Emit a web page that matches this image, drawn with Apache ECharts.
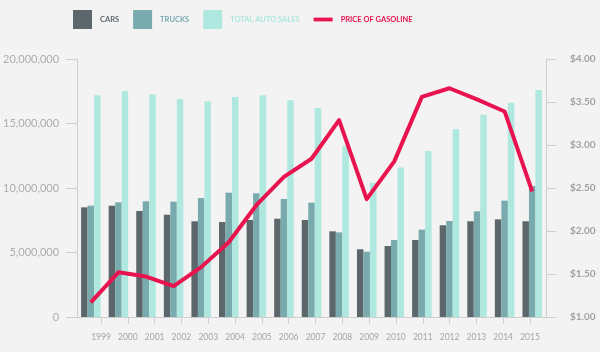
<!DOCTYPE html>
<html>
<head>
<meta charset="utf-8">
<script src="https://cdn.jsdelivr.net/npm/echarts@6/dist/echarts.min.js"></script>
<style>
  html, body { margin: 0; padding: 0; background: #f3f3f3; }
  #main { width: 600px; height: 352px; }
</style>
</head>
<body>
<div id="main"></div>
<script>
const years = ['1999', '2000', '2001', '2002', '2003', '2004', '2005', '2006', '2007',
  '2008', '2009', '2010', '2011', '2012', '2013', '2014', '2015'];
const cars = [8500000, 8630000, 8220000, 7930000, 7420000, 7360000, 7520000, 7620000, 7520000,
  6640000, 5250000, 5500000, 5970000, 7110000, 7420000, 7570000, 7420000];
const trucks = [8630000, 8890000, 8970000, 8940000, 9220000, 9640000, 9590000, 9150000, 8860000,
  6560000, 5060000, 5970000, 6770000, 7440000, 8190000, 9020000, 10160000];
const totalSales = [17190000, 17520000, 17240000, 16900000, 16720000, 17050000, 17190000, 16800000, 16200000,
  13280000, 10410000, 11580000, 12870000, 14550000, 15680000, 16600000, 17600000];
const gasPrice = [1.17, 1.52, 1.47, 1.36, 1.58, 1.87, 2.30, 2.63, 2.84,
  3.29, 2.37, 2.81, 3.56, 3.66, 3.53, 3.39, 2.46];

const font = 'Lato';
const axisGray = '#cfcfcf';

const option = {
  backgroundColor: '#f3f3f3',
  animation: false,
  textStyle: { fontFamily: font },
  legend: {
    left: 73,
    top: 10,
    padding: 0,
    itemWidth: 19,
    itemHeight: 19,
    itemGap: 14,
    textStyle: { fontSize: 7.5, fontWeight: 'bold', padding: [0, 0, 0, 3] },
    data: [
      { name: 'CARS', icon: 'rect', textStyle: { color: '#5b676b' } },
      { name: 'TRUCKS', icon: 'rect', textStyle: { color: '#78aaae' } },
      { name: 'TOTAL AUTO SALES', icon: 'rect', textStyle: { color: '#aee8de' } },
      { name: 'PRICE OF GASOLINE', icon: 'path://M0,0h20v4h-20z', textStyle: { color: '#e8134f' } }
    ]
  },
  grid: [
    { left: 74, right: 54, top: 59, bottom: 35 },
    { left: 101, right: 70, top: 59, bottom: 35 }
  ],
  xAxis: [
    {
      type: 'category',
      gridIndex: 0,
      data: years,
      axisLine: { lineStyle: { color: axisGray } },
      axisTick: { show: false },
      axisLabel: { show: false }
    },
    {
      type: 'category',
      gridIndex: 1,
      data: years,
      boundaryGap: false,
      axisLine: { show: false },
      axisTick: { show: true, length: 7, alignWithLabel: true, lineStyle: { color: axisGray } },
      axisLabel: { fontSize: 8.5, color: '#a5a5a5', margin: 16, fontFamily: font }
    }
  ],
  yAxis: [
    {
      type: 'value',
      gridIndex: 0,
      min: 0,
      max: 20000000,
      interval: 5000000,
      axisLine: { show: true, lineStyle: { color: axisGray } },
      axisTick: { show: true, length: 11, lineStyle: { color: axisGray } },
      splitLine: { show: false },
      axisLabel: {
        fontSize: 11,
        color: '#acacac',
        margin: 18,
        formatter: v => v.toLocaleString('en-US')
      }
    },
    {
      type: 'value',
      gridIndex: 0,
      position: 'right',
      min: 1,
      max: 4,
      interval: 0.5,
      axisLine: { show: true, lineStyle: { color: axisGray } },
      axisTick: { show: true, length: 10, lineStyle: { color: axisGray } },
      splitLine: { show: false },
      axisLabel: {
        fontSize: 10,
        fontWeight: 'bold',
        color: '#a0a0a0',
        margin: 24,
        formatter: v => '$' + v.toFixed(2)
      }
    },
    {
      type: 'value',
      gridIndex: 1,
      show: false
    }
  ],
  series: [
    {
      name: 'CARS',
      type: 'bar',
      data: cars,
      barWidth: 6.5,
      barGap: '0%',
      itemStyle: { color: '#5b676b' }
    },
    {
      name: 'TRUCKS',
      type: 'bar',
      data: trucks,
      barWidth: 6.5,
      barGap: '0%',
      itemStyle: { color: '#78aaae' }
    },
    {
      name: 'TOTAL AUTO SALES',
      type: 'bar',
      data: totalSales,
      barWidth: 6.5,
      barGap: '0%',
      itemStyle: { color: '#aee8de' }
    },
    {
      name: 'PRICE OF GASOLINE',
      type: 'line',
      yAxisIndex: 1,
      data: gasPrice,
      symbol: 'none',
      z: 5,
      itemStyle: { color: '#e8134f' },
      lineStyle: { width: 4, color: '#e8134f', join: 'round' }
    }
  ]
};

const myChart = echarts.init(document.getElementById('main'));
myChart.setOption(option);
</script>
</body>
</html>
